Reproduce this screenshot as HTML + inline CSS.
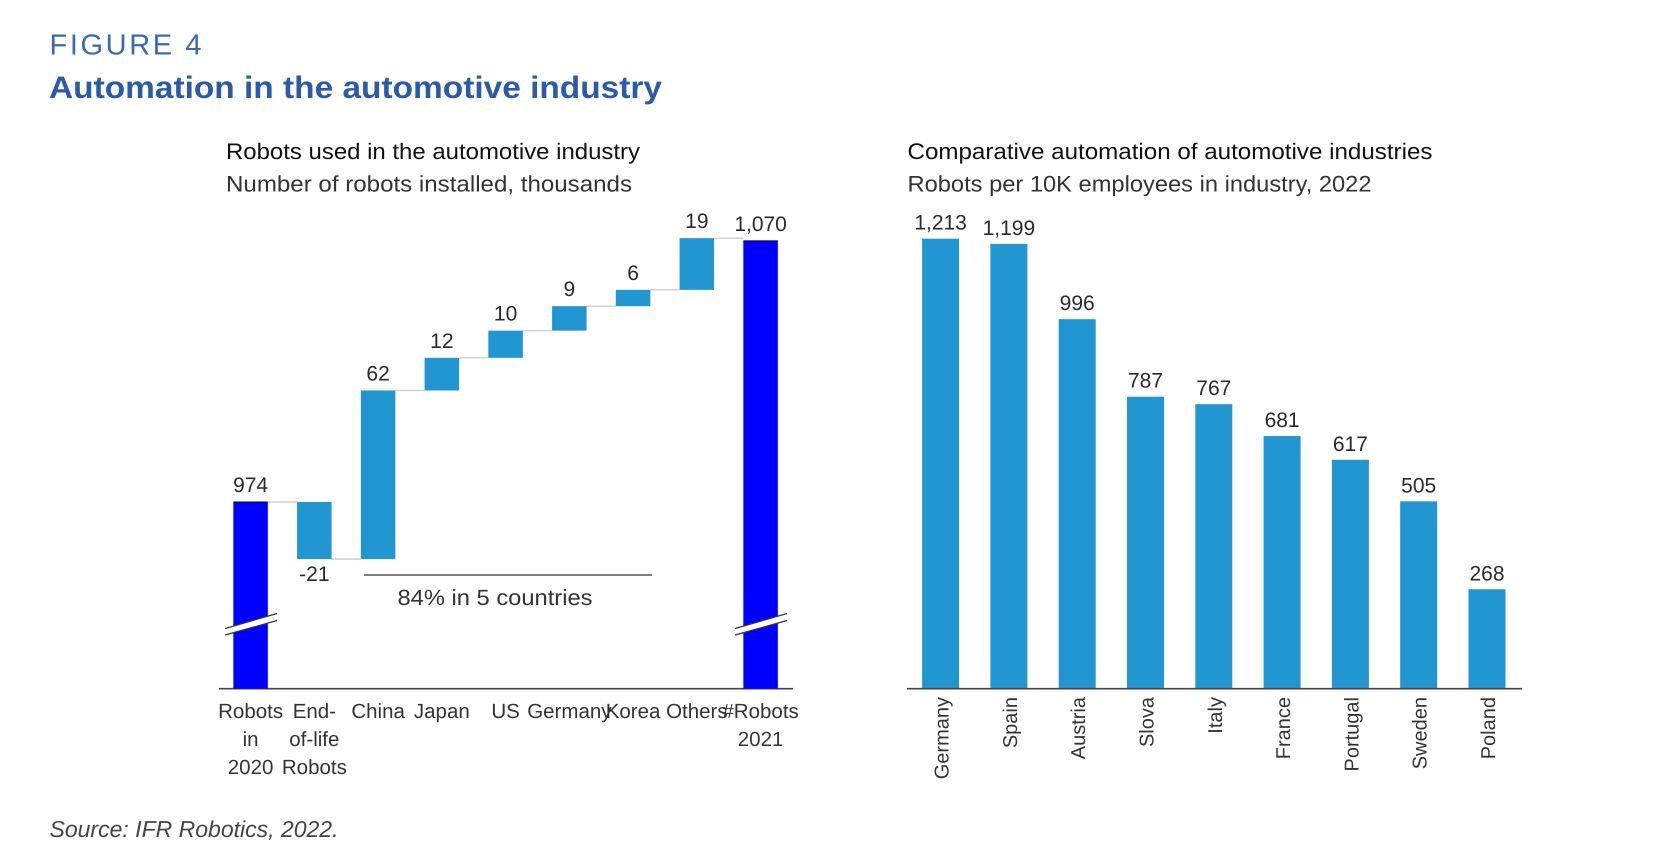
<!DOCTYPE html>
<html lang="en">
<head>
<meta charset="utf-8">
<title>Automation in the automotive industry</title>
<style>
  html, body { margin: 0; padding: 0; background: #ffffff; }
  body { width: 1672px; height: 862px; overflow: hidden; }
  svg { display: block; font-family: "Liberation Sans", sans-serif; text-rendering: geometricPrecision; }
</style>
</head>
<body>
<svg id="figure" xmlns="http://www.w3.org/2000/svg" width="1672" height="862" viewBox="0 0 1672 862">
  <rect x="0" y="0" width="1672" height="862" fill="#ffffff"/>
  <text x="49.5" y="54.5" font-size="29" fill="#3a68b2" textLength="152" lengthAdjust="spacing">FIGURE 4</text>
  <text x="49" y="98" font-size="31" font-weight="700" fill="#2b5ba8" textLength="613" lengthAdjust="spacingAndGlyphs">Automation in the automotive industry</text>

  <text x="226" y="159" font-size="22.5" fill="#111111" textLength="414" lengthAdjust="spacingAndGlyphs">Robots used in the automotive industry</text>
  <text x="226" y="191.5" font-size="22.5" fill="#333333" textLength="406" lengthAdjust="spacingAndGlyphs">Number of robots installed, thousands</text>

  <text x="907.5" y="159" font-size="22.5" fill="#111111" textLength="525" lengthAdjust="spacingAndGlyphs">Comparative automation of automotive industries</text>
  <text x="907.5" y="191.5" font-size="22.5" fill="#333333" textLength="464" lengthAdjust="spacingAndGlyphs">Robots per 10K employees in industry, 2022</text>

  <g id="waterfall"></g>
  <g id="barchart"></g>

  <line x1="364" y1="575" x2="652" y2="575" stroke="#333333" stroke-width="1.3"/>
  <text x="495" y="605" font-size="22" fill="#333333" text-anchor="middle" textLength="195" lengthAdjust="spacingAndGlyphs">84% in 5 countries</text>

  <text x="49.5" y="837" font-size="23" font-style="italic" fill="#444444" textLength="289" lengthAdjust="spacingAndGlyphs">Source: IFR Robotics, 2022.</text>
</svg>
<script>
const wfCategories = [["Robots", "in", "2020"], ["End-", "of-life", "Robots"], ["China"], ["Japan"], ["US"], ["Germany"], ["Korea"], ["Others"], ["#Robots", "2021"]];
const wfStart = 974;
const wfDeltas = [-21, 62, 12, 10, 9, 6, 19];
const wfEnd = 1070;

const barCategories = ["Germany", "Spain", "Austria", "Slova", "Italy", "France", "Portugal", "Sweden", "Poland"];
const barValues = [1213, 1199, 996, 787, 767, 681, 617, 505, 268];

const SVG_NS = "http://www.w3.org/2000/svg";
const BLUE = "#2196d0";
const PURE_BLUE = "#0000ff";
const BASE_Y = 688.7;

function make(tag, parent) {
  const el = document.createElementNS(SVG_NS, tag);
  parent.appendChild(el);
  return el;
}
function rect(parent, x, y, w, h, fill) {
  const el = make("rect", parent);
  el.setAttribute("x", x);
  el.setAttribute("y", y);
  el.setAttribute("width", w);
  el.setAttribute("height", h);
  el.setAttribute("fill", fill);
  return el;
}
function line(parent, x1, y1, x2, y2, stroke, width) {
  const el = make("line", parent);
  el.setAttribute("x1", x1);
  el.setAttribute("y1", y1);
  el.setAttribute("x2", x2);
  el.setAttribute("y2", y2);
  el.setAttribute("stroke", stroke);
  el.setAttribute("stroke-width", width);
  return el;
}
function label(parent, str, x, y, size, fill) {
  const el = make("text", parent);
  el.setAttribute("x", x);
  el.setAttribute("y", y);
  el.setAttribute("font-size", size);
  el.setAttribute("fill", fill);
  el.setAttribute("text-anchor", "middle");
  el.textContent = str;
  return el;
}
function fmt(v) {
  return v.toLocaleString("en-US");
}
function slug(s) {
  return s.toLowerCase().replace(/[^a-z0-9]+/g, "-").replace(/^-|-$/g, "");
}

/* ---------- Waterfall ---------- */
const wf = document.getElementById("waterfall");
const wfX = i => 250.6 + 63.75 * i;
const wfY = v => 502 - (v - wfStart) * 2.72;
const wfW = 34.5;

const wfAxis = line(wf, 219, BASE_Y, 793, BASE_Y, "#444444", 1.6);



function drawTotal(i, value) {
  const top = wfY(value);
  const bar = rect(wf, wfX(i) - wfW / 2, top, wfW, BASE_Y - top, PURE_BLUE);
  
  
  const cap = line(wf, wfX(i) - wfW / 2, top, wfX(i) + wfW / 2, top, "#000033", 1);
  
  
  const val = label(wf, fmt(value), wfX(i), top - 10, 21, "#2a2a2a");
  
  
  const left = wfX(i) - 25.5;
  const right = wfX(i) + 26.5;
  const brk = make("polygon", wf);
  brk.setAttribute("points", left + ",628.5 " + right + ",613.5 " + right + ",620.5 " + left + ",635");
  brk.setAttribute("fill", "#ffffff");
  
  
  const b1 = line(wf, left, 628.5, right, 613.5, "#333333", 1.2);
  
  
  const b2 = line(wf, left, 635, right, 620.5, "#333333", 1.2);
  
  
}

drawTotal(0, wfStart);

let running = wfStart;
wfDeltas.forEach((d, k) => {
  const i = k + 1;
  const conn0 = line(wf, wfX(i - 1) + wfW / 2, wfY(running), wfX(i) - wfW / 2, wfY(running), "#cfcfcf", 1.4);
  
  
  const next = running + d;
  const top = wfY(Math.max(running, next));
  const bottom = wfY(Math.min(running, next));
  const bar = rect(wf, wfX(i) - wfW / 2, top, wfW, bottom - top, BLUE);
  
  
  const labelY = d < 0 ? bottom + 22 : top - 10;
  const val = label(wf, String(d), wfX(i), labelY, 21, "#2a2a2a");
  
  
  running = next;
});
const connLast = line(wf, wfX(7) + wfW / 2, wfY(running), wfX(8) - wfW / 2, wfY(running), "#cfcfcf", 1.4);



drawTotal(8, wfEnd);

wfCategories.forEach((lines, i) => {
  lines.forEach((txt, j) => {
    const t = label(wf, txt, wfX(i), 718 + 28 * j, 20.5, "#333333");
    
    
  });
});

/* ---------- Country bars ---------- */
const bc = document.getElementById("barchart");
const bcX = i => 940.6 + 68.3 * i;
const bcY = v => BASE_Y - v * 0.371;
const bcW = 37;

barValues.forEach((v, i) => {
  const top = bcY(v);
  const bar = rect(bc, bcX(i) - bcW / 2, top, bcW, BASE_Y - top, BLUE);
  
  
  const val = label(bc, fmt(v), bcX(i), top - 9, 21, "#2a2a2a");
  
  
  const tick = make("text", bc);
  tick.setAttribute("transform", "translate(" + (bcX(i) + 8) + ",697) rotate(-90)");
  tick.setAttribute("font-size", 20);
  tick.setAttribute("fill", "#333333");
  tick.setAttribute("text-anchor", "end");
  tick.textContent = barCategories[i];
  
  
});

const bcAxis = line(bc, 907, BASE_Y, 1522, BASE_Y, "#444444", 1.6);


</script>
</body>
</html>
